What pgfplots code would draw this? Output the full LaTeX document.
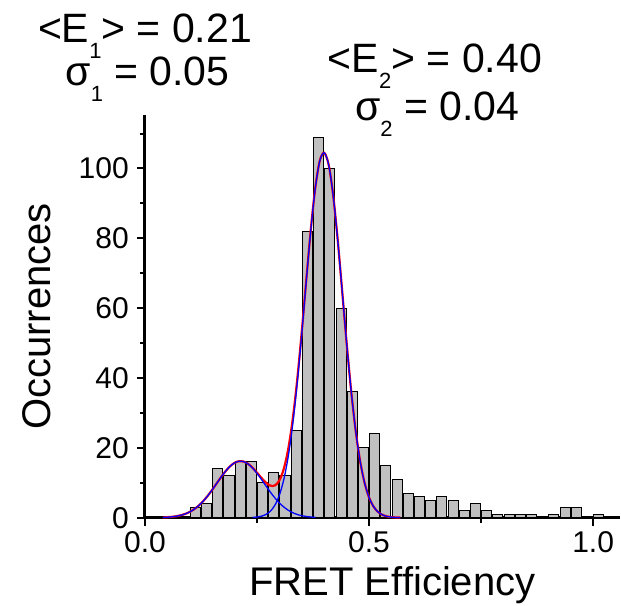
\documentclass[border=0pt]{standalone}
\usepackage{fontspec}
\setmainfont{Liberation Sans}
\usepackage{pgfplots}
\pgfplotsset{compat=1.18}
\definecolor{barfill}{RGB}{192,192,192}
\newcommand{\sub}[1]{\raisebox{-16pt}{\fontsize{22}{22}\selectfont #1}}
\begin{document}
\begin{tikzpicture}
\begin{axis}[
  scale only axis,
  width=475pt, height=402.7pt,
  xmin=0, xmax=1.06, ymin=0, ymax=115.3,
  axis lines=left,
  axis line style={-, line width=3pt},
  clip=false,
  tick align=outside,
  major tick length=8pt,
  minor tick length=5pt,
  every tick/.style={black, line width=2pt},
  xtick={0,0.5,1}, xticklabels={0.0,0.5,1.0},
  minor xtick={0.25,0.75},
  ytick={0,20,40,60,80,100},
  minor ytick={10,30,50,70,90,110},
  /pgf/number format/assume math mode=true,
  tick label style={font=\fontsize{30}{36}\selectfont},
  xticklabel style={inner sep=0pt, yshift=-6pt},
  yticklabel style={inner sep=0pt, xshift=-8pt},
  xlabel={FRET Efficiency},
  ylabel={Occurrences},
  label style={font=\fontsize{40}{48}\selectfont},
  xlabel style={at={(axis description cs:0.521,-0.192)}, anchor=base, inner sep=0pt},
  ylabel style={at={(axis description cs:-0.227,0.5)}, anchor=center, inner sep=0pt},
]
\coordinate (O) at (axis cs:0,0);
\addplot[ybar, bar width=0.0225, fill=barfill, draw=black, line width=1pt] coordinates {
(0.1125,3) (0.1375,4) (0.1625,14) (0.1875,12) (0.2125,16) (0.2375,16)
(0.2625,10) (0.2875,13) (0.3125,12) (0.3375,25) (0.3625,82) (0.3875,109)
(0.4125,100) (0.4375,60) (0.4625,36) (0.4875,20) (0.5125,24) (0.5375,15)
(0.5625,11) (0.5875,7) (0.6125,6) (0.6375,5) (0.6625,6) (0.6875,5)
(0.7125,2) (0.7375,4) (0.7625,2) (0.7875,1) (0.8125,1) (0.8375,1)
(0.8625,1) (0.9125,1) (0.9375,3) (0.9625,3) (1.0125,1)
};
% sum of the two fitted Gaussians
\addplot[red, line width=2.2pt, smooth, no markers] coordinates {
(0.04,0.079) (0.05,0.143) (0.06,0.251) (0.07,0.425) (0.08,0.695) (0.09,1.097)
(0.10,1.669) (0.11,2.451) (0.12,3.475) (0.13,4.753) (0.14,6.274) (0.15,7.993)
(0.16,9.826) (0.17,11.657) (0.18,13.346) (0.19,14.744) (0.20,15.723) (0.21,16.178)
(0.22,16.07) (0.23,15.42) (0.24,14.31) (0.25,12.89) (0.26,11.37) (0.27,10.02)
(0.28,9.175) (0.29,9.241) (0.30,10.707) (0.31,14.105) (0.32,19.931) (0.33,28.527)
(0.34,39.878) (0.35,53.484) (0.36,68.246) (0.37,82.541) (0.38,94.443) (0.39,102.19)
(0.40,104.47) (0.41,100.97) (0.42,92.22) (0.43,79.59) (0.44,64.89) (0.45,49.99)
(0.46,36.39) (0.47,25.04) (0.48,16.27) (0.49,9.993) (0.50,5.799) (0.51,3.180)
(0.52,1.648) (0.53,0.807) (0.54,0.373) (0.55,0.163) (0.56,0.067) (0.57,0.026)
};
% first Gaussian
\addplot[blue, line width=1.3pt, smooth, no markers] coordinates {
(0.04,0.079) (0.05,0.143) (0.06,0.251) (0.07,0.425) (0.08,0.695) (0.09,1.097)
(0.10,1.669) (0.11,2.451) (0.12,3.475) (0.13,4.753) (0.14,6.274) (0.15,7.993)
(0.16,9.826) (0.17,11.657) (0.18,13.346) (0.19,14.744) (0.20,15.721) (0.21,16.174)
(0.22,16.059) (0.23,15.388) (0.24,14.229) (0.25,12.697) (0.26,10.934) (0.27,9.085)
(0.28,7.287) (0.29,5.638) (0.30,4.210) (0.31,3.035) (0.32,2.111) (0.33,1.417)
(0.34,0.918) (0.35,0.574) (0.36,0.346) (0.37,0.201) (0.38,0.113)
};
% second Gaussian
\addplot[blue, line width=1.3pt, smooth, no markers] coordinates {
(0.24,0.081) (0.25,0.193) (0.26,0.437) (0.27,0.935) (0.28,1.888) (0.29,3.603)
(0.30,6.497) (0.31,11.07) (0.32,17.82) (0.33,27.11) (0.34,38.96) (0.35,52.91)
(0.36,67.90) (0.37,82.34) (0.38,94.33) (0.39,102.13) (0.40,104.47) (0.41,100.97)
(0.42,92.22) (0.43,79.59) (0.44,64.89) (0.45,49.99) (0.46,36.39) (0.47,25.04)
(0.48,16.27) (0.49,9.993) (0.50,5.799) (0.51,3.180) (0.52,1.648) (0.53,0.807)
(0.54,0.373) (0.55,0.163) (0.56,0.067) (0.57,0.026)
};
\node[anchor=base, inner sep=0pt, font=\fontsize{41}{41}\selectfont] at (axis cs:0.0,136.2) {<E\sub{1}> = 0.21};
\node[anchor=base, inner sep=0pt, font=\fontsize{41}{41}\selectfont] at (axis cs:0.0056,123.8) {σ\sub{1} = 0.05};
\node[anchor=base, inner sep=0pt, font=\fontsize{41}{41}\selectfont] at (axis cs:0.647,127.6) {<E\sub{2}> = 0.40};
\node[anchor=base, inner sep=0pt, font=\fontsize{41}{41}\selectfont] at (axis cs:0.652,113.8) {σ\sub{2} = 0.04};
\end{axis}
\pgfresetboundingbox
\path[use as bounding box] ([shift={(-145pt,-87.3pt)}]O) rectangle ([shift={(476pt,517.7pt)}]O);
\end{tikzpicture}
\end{document}
